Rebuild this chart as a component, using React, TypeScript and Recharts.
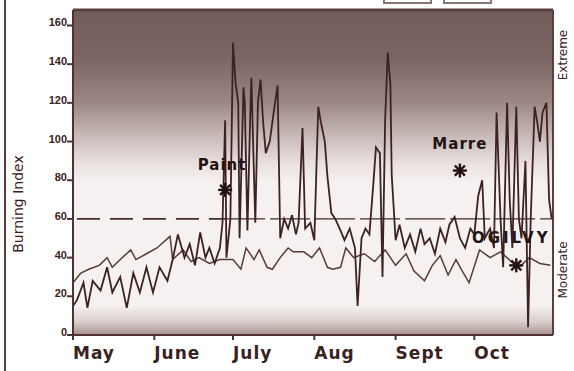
import React from 'react';
import {
	LineChart,
	Line,
	XAxis,
	YAxis,
	ReferenceArea,
	ReferenceLine,
	ReferenceDot,
} from 'recharts';

// days counted from May 1
const monthTicks = [0, 31, 61, 92, 123, 153];
const monthLabels = ['May', 'June', 'July', 'Aug', 'Sept', 'Oct'];
const yTicks = [0, 20, 40, 60, 80, 100, 120, 140, 160];

// smoother "moderate" trace
const lowDays = [
	0, 3, 6, 10, 13, 15, 18, 22, 24, 28, 32, 37, 38, 42, 45, 48, 52, 56, 61, 64,
	66, 69, 71, 74, 76, 79, 82, 84, 88, 91, 94, 97, 99, 102, 104, 107, 111, 115,
	119, 123, 127, 130, 134, 137, 140, 143, 146, 148, 151, 155, 159, 163, 167,
	170, 174, 178, 182,
];
const lowValues = [
	27, 32, 34, 36, 40, 35, 39, 44, 39, 42, 45, 51, 39, 44, 38, 40, 37, 39, 39, 34,
	45, 39, 44, 35, 34, 40, 45, 43, 43, 40, 45, 35, 34, 35, 45, 40, 42, 38, 44, 36,
	42, 33, 28, 36, 41, 31, 39, 34, 27, 44, 40, 43, 38, 35, 40, 37, 36,
];

// spiky trace
const highDays = [
	0, 1.5, 4, 5.5, 7.5, 10.5, 13, 15, 18, 20.5, 23, 25.5, 28, 30.5, 33, 36, 38,
	40, 42.5, 44.5, 46.5, 48.5, 50.5, 52, 54, 56, 57, 58, 58.5, 60, 61, 62, 63,
	63.5, 65, 65.5, 66.5, 67.5, 68, 69.5, 70.5, 71.5, 72.5, 73.5, 75, 76.5, 78,
	79, 80.5, 82, 83.5, 85, 86, 87.5, 88.5, 90.5, 92, 93.5, 94.5, 96, 97, 98.5,
	100, 102, 103.5, 105.5, 107.5, 108.5, 110, 111.5, 113, 114.5, 115.5, 117,
	118, 119, 120, 121, 121.5, 123, 124.5, 126.5, 128.5, 130.5, 132.5, 134, 136,
	138, 140, 142, 143.5, 145.5, 147.5, 149.5, 151.5, 153, 154.5, 156, 157, 159,
	160.5, 161.5, 163, 164, 165.5, 166.5, 167.5, 169, 170, 171, 172.5, 173.5,
	174.5, 176, 177, 178, 179, 180.5, 181.5, 182.5,
];
const highValues = [
	15, 18, 27, 14, 28, 23, 35, 22, 30, 14, 32, 22, 35, 22, 35, 28, 39, 52, 40,
	47, 36, 53, 40, 45, 37, 45, 58, 111, 40, 60, 151, 130, 120, 50, 128, 120, 54,
	110, 133, 58, 120, 132, 110, 94, 100, 115, 129, 50, 60, 55, 62, 52, 58, 107,
	55, 58, 49, 118, 110, 100, 82, 63, 60, 54, 49, 55, 45, 15, 50, 55, 52, 78, 97,
	94, 30, 111, 146, 130, 83, 49, 57, 45, 52, 43, 55, 47, 50, 42, 55, 48, 57, 61,
	50, 45, 55, 52, 72, 80, 50, 55, 45, 115, 60, 35, 120, 70, 45, 118, 60, 50, 90,
	4, 60, 118, 110, 100, 115, 120, 70, 60,
];

const annotationNames = ['Paint', 'Marre', 'OGILVY'];
const annotationDays = [58, 147.5, 169];
const annotationValues = [75, 85, 36];

const lowData = lowDays.map((day, i) => ({ day, v: lowValues[i] }));
const highData = highDays.map((day, i) => ({ day, v: highValues[i] }));

const ink = '#3a2222';
const axisColor = '#4e3232';

const labelOffsets = [
	{ dx: -3, dy: -20, spacing: 1 },
	{ dx: 0, dy: -22, spacing: 1 },
	{ dx: -5, dy: -22, spacing: 3 },
];

const MonthTick = ({ x, y, payload }: any) => {
	const idx = monthTicks.indexOf(payload.value);
	return (
		<text
			x={x}
			y={y + 17}
			textAnchor="start"
			fontFamily="DejaVu Sans"
			fontWeight="bold"
			fontSize={17}
			letterSpacing={1}
			fill={ink}
		>
			{monthLabels[idx]}
		</text>
	);
};

const ValueTick = ({ x, y, payload }: any) => (
	<text
		x={x}
		y={y + 1}
		textAnchor="end"
		fontFamily="Liberation Sans"
		fontWeight="bold"
		fontSize={11}
		fill={ink}
	>
		{payload.value}
	</text>
);

const makeMarker = (i: number) => (props: any) => {
	const { cx, cy } = props;
	const r = 7;
	const d = r * 0.72;
	const off = labelOffsets[i];
	return (
		<g>
			<g stroke="#241212" strokeWidth={2.4}>
				<line x1={cx - r} y1={cy} x2={cx + r} y2={cy} />
				<line x1={cx} y1={cy - r} x2={cx} y2={cy + r} />
				<line x1={cx - d} y1={cy - d} x2={cx + d} y2={cy + d} />
				<line x1={cx - d} y1={cy + d} x2={cx + d} y2={cy - d} />
			</g>
			<text
				x={cx + off.dx}
				y={cy + off.dy}
				textAnchor="middle"
				fontFamily="DejaVu Sans"
				fontWeight="bold"
				fontSize={15}
				letterSpacing={off.spacing}
				fill="#241414"
			>
				{annotationNames[i]}
			</text>
		</g>
	);
};

const sideText = (text: string, left: number, top: number, size: number) => (
	<div
		style={{
			position: 'absolute',
			left,
			top,
			transform: 'translate(-50%, -50%) rotate(-90deg)',
			whiteSpace: 'nowrap',
			fontFamily: 'DejaVu Sans',
			fontSize: size,
			color: ink,
		}}
	>
		{text}
	</div>
);

export default function App() {
	return (
		<div
			style={{
				position: 'absolute',
				left: 0,
				top: 0,
				width: 574,
				height: 371,
				background: '#ffffff',
				overflow: 'hidden',
			}}
		>
			<div
				style={{
					position: 'absolute',
					left: 4,
					top: 0,
					width: 2,
					height: 371,
					background: '#5a3c3c',
				}}
			/>
			<div
				style={{
					position: 'absolute',
					left: 383,
					top: -12,
					width: 45,
					height: 12,
					border: '2px solid #8a7573',
				}}
			/>
			<div
				style={{
					position: 'absolute',
					left: 443,
					top: -12,
					width: 45,
					height: 12,
					border: '2px solid #8a7573',
				}}
			/>
			{sideText('Burning Index', 18, 204, 14)}
			{sideText('Extreme', 563, 55, 12)}
			{sideText('Moderate', 563, 270, 12)}
			<LineChart
				width={574}
				height={371}
				margin={{ top: 10, right: 21, bottom: 6, left: 0 }}
			>
				<defs>
					<linearGradient id="bgGrad" x1="0" y1="0" x2="0" y2="1">
						<stop offset="0%" stopColor="#745c5a" />
						<stop offset="15%" stopColor="#7c6563" />
						<stop offset="28%" stopColor="#9a8683" />
						<stop offset="38%" stopColor="#c4b6b3" />
						<stop offset="47%" stopColor="#e8e0de" />
						<stop offset="53%" stopColor="#f4f1f0" />
						<stop offset="91%" stopColor="#f4f1f0" />
						<stop offset="96%" stopColor="#d9cecb" />
						<stop offset="100%" stopColor="#a5908c" />
					</linearGradient>
				</defs>
				<XAxis
					dataKey="day"
					type="number"
					domain={[0, 183]}
					ticks={monthTicks}
					tick={<MonthTick />}
					tickSize={5}
					height={30}
					stroke={axisColor}
					strokeWidth={2}
					allowDataOverflow
				/>
				<YAxis
					type="number"
					domain={[0, 168]}
					ticks={yTicks}
					tick={<ValueTick />}
					tickSize={6}
					tickMargin={0}
					width={73}
					stroke={axisColor}
					strokeWidth={2}
					allowDataOverflow
				/>
				<ReferenceArea
					y1={0}
					y2={168}
					fill="url(#bgGrad)"
					fillOpacity={1}
					stroke="none"
				/>
				<ReferenceLine y={168} stroke="#5b4040" strokeWidth={3} />
				<ReferenceLine x={183} stroke="#5b4040" strokeWidth={2} />
				<ReferenceLine
					segment={[
						{ x: 1.5, y: 60 },
						{ x: 58, y: 60 },
					]}
					stroke="#4a2c2c"
					strokeWidth={1.8}
					strokeDasharray="23 10"
				/>
				<ReferenceLine
					segment={[
						{ x: 58, y: 60 },
						{ x: 183, y: 60 },
					]}
					stroke="#4a2c2c"
					strokeWidth={1.2}
					strokeDasharray="40 5"
				/>
				<Line
					data={lowData}
					dataKey="v"
					type="linear"
					stroke="#5a3a38"
					strokeWidth={1.5}
					dot={false}
					isAnimationActive={false}
				/>
				<Line
					data={highData}
					dataKey="v"
					type="linear"
					stroke="#3e2222"
					strokeWidth={1.8}
					dot={false}
					isAnimationActive={false}
				/>
				{annotationNames.map((name, i) => (
					<ReferenceDot
						key={name}
						x={annotationDays[i]}
						y={annotationValues[i]}
						shape={makeMarker(i)}
					/>
				))}
			</LineChart>
		</div>
	);
}
